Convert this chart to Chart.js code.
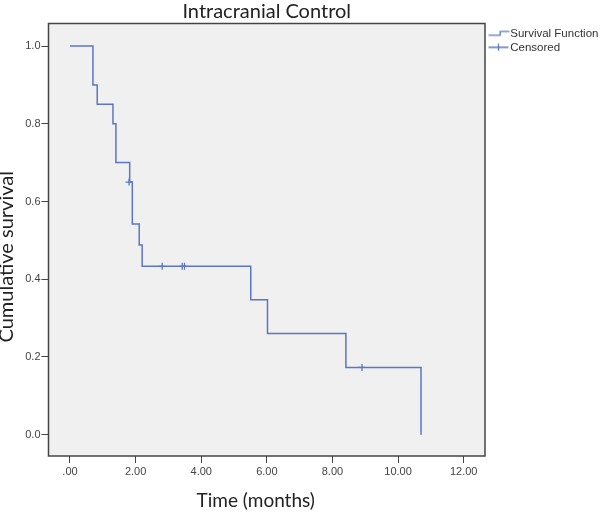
<!DOCTYPE html>
<html>
<head>
<meta charset="utf-8">
<script src="https://cdn.jsdelivr.net/npm/chart.js@4.4.1/dist/chart.umd.min.js"></script>
<style>
html,body{margin:0;padding:0;background:#ffffff;}
#wrap{width:600px;height:515px;}
</style>
</head>
<body>
<div id="wrap"><canvas id="c" width="600" height="515"></canvas></div>
<script>
// ---- data ----
const eventTimes = [0, 0.70, 0.83, 1.31, 1.40, 1.82, 1.90, 2.11, 2.20, 5.51, 6.02, 8.41, 10.70];
const survival   = [1.0, 0.90, 0.85, 0.80, 0.70, 0.65, 0.542, 0.488, 0.433, 0.347, 0.260, 0.173, 0.0];
const censorTimes    = [1.80, 2.81, 3.42, 3.49, 8.90];
const censorSurvival = [0.65, 0.433, 0.433, 0.433, 0.173];
const xTicks = [0, 2, 4, 6, 8, 10, 12];
const xTickLabels = ['.00', '2.00', '4.00', '6.00', '8.00', '10.00', '12.00'];
const yTicks = [0, 0.2, 0.4, 0.6, 0.8, 1.0];
const yTickLabels = ['0.0', '0.2', '0.4', '0.6', '0.8', '1.0'];
const seriesLabels = ['Survival Function', 'Censored'];

const BLUE = '#5b76c4';

function makeIcon(kind) {
  const cv = document.createElement('canvas');
  cv.width = 28; cv.height = 8;
  const g = cv.getContext('2d');
  g.strokeStyle = BLUE; g.lineWidth = 1.3;
  g.beginPath();
  if (kind === 'step') {
    g.moveTo(6.5, 5.8); g.lineTo(18.2, 5.8); g.lineTo(18.2, 2.2); g.lineTo(27.5, 2.2);
  } else {
    g.moveTo(6.5, 4); g.lineTo(26.5, 4);
    g.moveTo(16.5, 0.5); g.lineTo(16.5, 7.5);
  }
  g.stroke();
  return cv;
}
const legendIcons = [makeIcon('step'), makeIcon('cross')];

// axis-title offsets along the axis (the reference centres them off the plot middle)
const titleShift = {x: [-11, 0], y: [0, 17]};

const plotFrame = {
  id: 'plotFrame',
  beforeDraw(chart) {
    const a = chart.chartArea, ctx = chart.ctx;
    ctx.save();
    ctx.fillStyle = '#f0f0f0';
    ctx.fillRect(a.left, a.top, a.right - a.left, a.bottom - a.top);
    ctx.restore();
    ['x', 'y'].forEach(id => {
      const s = chart.scales[id];
      if (s && !s._shiftPatched) {
        const orig = s.drawTitle;
        s.drawTitle = function () {
          const c = this.ctx;
          c.save();
          c.translate(titleShift[id][0], titleShift[id][1]);
          orig.apply(this, arguments);
          c.restore();
        };
        s._shiftPatched = true;
      }
    });
  },
  afterDatasetsDraw(chart) {
    const a = chart.chartArea, ctx = chart.ctx;
    ctx.save();
    ctx.strokeStyle = '#444';
    ctx.lineWidth = 1.5;
    ctx.strokeRect(a.left, a.top, a.right - a.left, a.bottom - a.top);
    ctx.restore();
  }
};

const tickFont = {family: '"Liberation Sans", Arial, sans-serif', size: 11};
const titleFamily = 'Lato, "Open Sans", sans-serif';

new Chart(document.getElementById('c'), {
  type: 'line',
  data: {
    datasets: [
      {
        label: seriesLabels[0],
        data: eventTimes.map((t, i) => ({x: t, y: survival[i]})),
        stepped: 'before',
        borderColor: BLUE,
        borderWidth: 1.5,
        pointRadius: 0,
        fill: false,
        tension: 0
      },
      {
        type: 'scatter',
        label: seriesLabels[1],
        data: censorTimes.map((t, i) => ({x: t, y: censorSurvival[i]})),
        pointStyle: 'cross',
        pointRadius: 3.5,
        borderColor: BLUE,
        backgroundColor: BLUE,
        borderWidth: 1.3,
        showLine: false
      }
    ]
  },
  options: {
    responsive: false,
    animation: false,
    devicePixelRatio: 1,
    layout: {padding: 0},
    plugins: {
      title: {
        display: true,
        text: 'Intracranial Control',
        fullSize: false,
        color: '#222',
        font: {family: titleFamily, size: 20, weight: 'normal', lineHeight: 1.175},
        padding: {top: 0, bottom: 0}
      },
      legend: {
        display: true,
        position: 'right',
        align: 'start',
        fullSize: false,
        maxWidth: 115,
        title: {display: true, text: '', padding: {top: 1.5, bottom: 0}, font: {size: 0.1, lineHeight: 1}},
        labels: {
          usePointStyle: true,
          pointStyleWidth: 17,
          padding: 2.5,
          color: '#333',
          font: {family: '"Liberation Sans", Arial, sans-serif', size: 11.5},
          generateLabels(chart) {
            const items = Chart.defaults.plugins.legend.labels.generateLabels(chart);
            items.forEach(it => { it.pointStyle = legendIcons[it.datasetIndex]; });
            return items;
          }
        }
      },
      tooltip: {enabled: false}
    },
    scales: {
      x: {
        type: 'linear',
        position: 'bottom',
        min: -0.655,
        max: 12.65,
        afterBuildTicks(s) { s.ticks = xTicks.map(v => ({value: v})); },
        afterFit(s) { s.height = 59; },
        ticks: {
          autoSkip: false, maxRotation: 0, padding: 2,
          color: '#444', font: tickFont,
          callback: (v, i) => xTickLabels[i]
        },
        grid: {drawOnChartArea: false, drawTicks: true, tickLength: 7, tickColor: '#444', tickWidth: 1},
        border: {display: false},
        title: {
          display: true, text: 'Time (months)', color: '#222',
          font: {family: titleFamily, size: 19},
          padding: {top: 0, bottom: 3}
        }
      },
      y: {
        type: 'linear',
        min: -0.055,
        max: 1.058,
        afterBuildTicks(s) { s.ticks = yTicks.map(v => ({value: v})); },
        afterFit(s) { s.width = 48.5; },
        ticks: {
          padding: 1, color: '#444', font: tickFont,
          callback: (v, i) => yTickLabels[i]
        },
        grid: {drawOnChartArea: false, drawTicks: true, tickLength: 7, tickColor: '#444', tickWidth: 1},
        border: {display: false},
        title: {
          display: true, text: 'Cumulative survival', color: '#222',
          font: {family: titleFamily, size: 20, lineHeight: 0.7},
          padding: {top: 0, bottom: 0}
        }
      }
    }
  },
  plugins: [plotFrame]
});
</script>
</body>
</html>
